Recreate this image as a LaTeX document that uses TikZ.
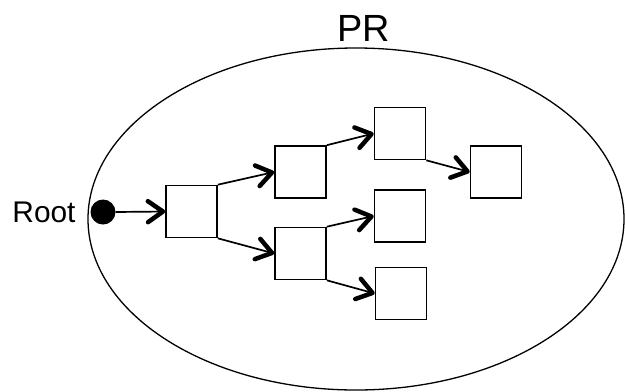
\documentclass[tikz,border=0pt]{standalone}
\usepackage{fontspec}
\setmainfont{Liberation Sans}
\usetikzlibrary{arrows.meta}
\begin{document}
\begin{tikzpicture}[x=1bp,y=-1bp,
  cell/.style={draw,line width=1.6bp,minimum width=51bp,minimum height=52bp,inner sep=0pt},
  link/.style={line width=1.7bp,-{Straight Barb[length=15bp,width=21bp,line width=4.5bp,round]}}]
  \useasboundingbox (0,0) rectangle (625,391);
  % region boundary
  \draw[line width=1.3bp] (356,219) ellipse [x radius=268, y radius=171];
  \node[font=\fontsize{38}{40}\selectfont] (pr) at (364,28) {PR};
  \node[font=\fontsize{30}{32}\selectfont] (rootlbl) at (44,212) {Root};
  % root marker
  \node[circle,fill=black,minimum size=25bp,inner sep=0pt] (root) at (103,212) {};
  % cells
  \node[cell] (a) at (191.5,211.5) {};
  \node[cell] (b) at (300.5,172) {};
  \node[cell] (c) at (300.5,253.5) {};
  \node[cell] (d) at (400,133.5) {};
  \node[cell] (e) at (400,216) {};
  \node[cell] (f) at (401,293.5) {};
  \node[cell] (g) at (496,172) {};
  % references
  \draw[link] (root.east) -- (a.west);
  \draw[link] (a.north east) -- (b.west);
  \draw[link] (a.south east) -- (c.west);
  \draw[link] (b.north east) -- (d.west);
  \draw[link] (c.north east) -- (e.west);
  \draw[link] (c.south east) -- (f.west);
  \draw[link] (d.south east) -- (g.west);
\end{tikzpicture}
\end{document}
